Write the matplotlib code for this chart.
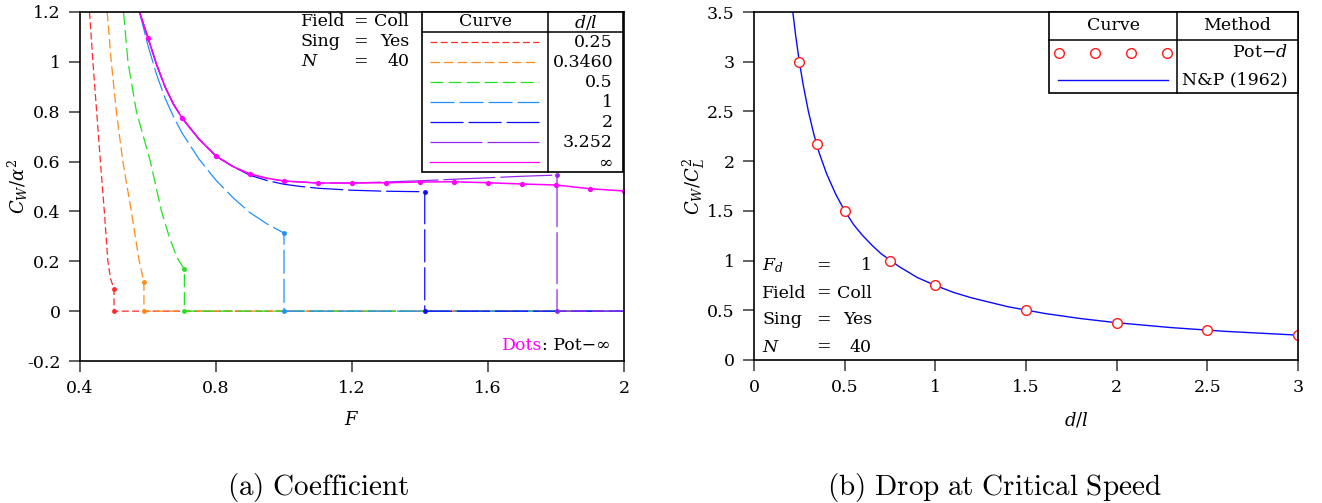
import matplotlib
matplotlib.use("Agg")
import matplotlib.pyplot as plt
from matplotlib.lines import Line2D
from matplotlib.patches import Rectangle

plt.rcParams['font.family'] = 'DejaVu Serif'
plt.rcParams['mathtext.fontset'] = 'dejavuserif'
plt.rcParams['lines.scale_dashes'] = False

W, H = 1322, 503

# ---- (a) C_W/alpha^2 against F, one curve per d/l ----
dl_labels = ['0.25', '0.3460', '0.5', '1', '2', '3.252', r'$\infty$']

F_025 = [0.428, 0.438, 0.449, 0.460, 0.4715, 0.482, 0.490, 0.500]
C_025 = [1.200, 1.000, 0.800, 0.600, 0.400, 0.200, 0.130, 0.088]

F_0346 = [0.480, 0.492, 0.507, 0.526, 0.551, 0.5735, 0.588]
C_0346 = [1.200, 1.000, 0.800, 0.600, 0.400, 0.205, 0.117]

F_05 = [0.528, 0.541, 0.566, 0.607, 0.639, 0.662, 0.685, 0.707]
C_05 = [1.200, 1.000, 0.800, 0.600, 0.404, 0.300, 0.215, 0.168]

F_1 = [0.575, 0.600, 0.625, 0.650, 0.675, 0.700, 0.750, 0.800, 0.850, 0.900, 0.950, 1.000]
C_1 = [1.200, 1.065, 0.950, 0.855, 0.780, 0.715, 0.610, 0.525, 0.455, 0.395, 0.350, 0.313]

F_2 = [0.575, 0.600, 0.625, 0.650, 0.675, 0.700, 0.750, 0.800, 0.850, 0.900,
       0.950, 1.000, 1.050, 1.100, 1.200, 1.300, 1.414]
C_2 = [1.200, 1.096, 0.990, 0.900, 0.830, 0.775, 0.690, 0.622, 0.580, 0.545,
       0.524, 0.509, 0.500, 0.493, 0.485, 0.481, 0.479]

F_3252 = [0.575, 0.600, 0.625, 0.650, 0.675, 0.700, 0.750, 0.800, 0.850, 0.900,
          0.950, 1.000, 1.100, 1.200, 1.300, 1.400, 1.500, 1.600, 1.700, 1.803]
C_3252 = [1.200, 1.096, 0.990, 0.900, 0.830, 0.775, 0.690, 0.622, 0.580, 0.550,
          0.533, 0.522, 0.514, 0.514, 0.518, 0.523, 0.529, 0.535, 0.541, 0.546]

F_inf = [0.575, 0.600, 0.625, 0.650, 0.675, 0.700, 0.750, 0.800, 0.850, 0.900,
         0.950, 1.000, 1.100, 1.200, 1.300, 1.400, 1.500, 1.600, 1.700, 1.800,
         1.900, 2.000]
C_inf = [1.200, 1.096, 0.990, 0.900, 0.830, 0.775, 0.690, 0.622, 0.580, 0.550,
         0.533, 0.522, 0.514, 0.514, 0.515, 0.518, 0.519, 0.515, 0.510, 0.506,
         0.491, 0.482]

# potential-flow results for d/l = infinity
F_pot_inf = [0.6, 0.7, 0.8, 0.9, 1.0, 1.1, 1.2, 1.3, 1.4, 1.5, 1.6, 1.7, 1.8, 1.9, 2.0]
C_pot_inf = [1.096, 0.775, 0.622, 0.550, 0.522, 0.514, 0.514, 0.515, 0.518,
             0.519, 0.515, 0.510, 0.506, 0.491, 0.482]

finite = [(F_025, C_025), (F_0346, C_0346), (F_05, C_05),
          (F_1, C_1), (F_2, C_2), (F_3252, C_3252)]

colors = ['#ff2a2a', '#ff8c1a', '#1ee61e', '#2090ff', '#0a0aff', '#9428f0', '#ff00ff']
dashes = [(5.0, 2.4), (6.8, 3.0), (9.4, 3.6), (17.3, 3.6), (23.8, 3.6), (37.4, 3.6), None]

# ---- (b) C_W/C_L^2 at the critical speed against d/l ----
dl_pot = [0.25, 0.346, 0.5, 0.75, 1.0, 1.5, 2.0, 2.5, 3.0]
cw_pot = [3.00, 2.17, 1.50, 1.00, 0.75, 0.50, 0.375, 0.30, 0.25]

dl_np = [0.214, 0.22, 0.23, 0.24, 0.25, 0.27, 0.30, 0.33, 0.36, 0.40, 0.45, 0.50,
         0.55, 0.60, 0.65, 0.70, 0.80, 0.90, 1.00, 1.10, 1.20, 1.40, 1.60, 1.80,
         2.00, 2.30, 2.60, 3.00]
cw_np = [3.50, 3.41, 3.26, 3.13, 3.00, 2.78, 2.50, 2.27, 2.08, 1.875, 1.67, 1.50,
         1.36, 1.25, 1.155, 1.07, 0.94, 0.83, 0.75, 0.68, 0.625, 0.536, 0.469,
         0.417, 0.375, 0.326, 0.288, 0.25]

# axes boxes in pixels: left, right, top, bottom
box1 = (80, 624, 12, 361)
box2 = (754, 1298, 12, 360)

fig = plt.figure(figsize=(W / 100, H / 100), dpi=100)


def add_axes(box):
    x0, x1, y0, y1 = box
    return fig.add_axes([x0 / W, 1 - y1 / H, (x1 - x0) / W, (y1 - y0) / H])


def frac(box, px, py):
    x0, x1, y0, y1 = box
    return (px - x0) / (x1 - x0), (y1 - py) / (y1 - y0)


def style(ax):
    for s in ax.spines.values():
        s.set_linewidth(1.2)
    ax.tick_params(direction='out', length=8, width=1.3, color='#555555',
                   labelsize=12.5, top=False, right=False, pad=6)


ax1 = add_axes(box1)
ax2 = add_axes(box2)

for (F, C), col, ds in zip(finite, colors, dashes):
    Fc = F[-1]
    ln, = ax1.plot(F + [Fc, 2.0], C + [0.0, 0.0], color=col, lw=0.9)
    ln.set_dashes(ds)
    ax1.plot([Fc, Fc], [C[-1], 0.0], 'o', color=col, ms=3.5, mec='none')

ax1.plot(F_inf, C_inf, color=colors[-1], lw=1.1)
ax1.plot(F_pot_inf, C_pot_inf, 'o', color=colors[-1], ms=3.8, mec='none')

ax1.set_xlim(0.4, 2.0)
ax1.set_ylim(-0.2, 1.2)
ax1.set_xticks([0.4, 0.8, 1.2, 1.6, 2.0])
ax1.set_xticklabels(['0.4', '0.8', '1.2', '1.6', '2'])
ax1.set_yticks([-0.2, 0, 0.2, 0.4, 0.6, 0.8, 1.0, 1.2])
ax1.set_yticklabels(['-0.2', '0', '0.2', '0.4', '0.6', '0.8', '1', '1.2'])
style(ax1)

ax2.plot(dl_np, cw_np, color='#0a0aff', lw=1.0)
ax2.plot(dl_pot, cw_pot, 'o', mfc='white', mec='#ff1a1a', ms=7, mew=1.0)
ax2.set_xlim(0, 3)
ax2.set_ylim(0, 3.5)
ax2.set_xticks([0, 0.5, 1, 1.5, 2, 2.5, 3])
ax2.set_xticklabels(['0', '0.5', '1', '1.5', '2', '2.5', '3'])
ax2.set_yticks([0, 0.5, 1, 1.5, 2, 2.5, 3, 3.5])
ax2.set_yticklabels(['0', '0.5', '1', '1.5', '2', '2.5', '3', '3.5'])
style(ax2)


def put(ax, box, px, py, s, ha='left', color='k', size=12.5):
    x, y = frac(box, px, py)
    ax.text(x, y, s, transform=ax.transAxes, ha=ha, va='center',
            color=color, fontsize=size, zorder=7, clip_on=False)


def hline(ax, box, px0, px1, py, **kw):
    x0, y = frac(box, px0, py)
    x1, _ = frac(box, px1, py)
    ax.add_line(Line2D([x0, x1], [y, y], transform=ax.transAxes, zorder=7,
                       clip_on=False, **kw))


def vline(ax, box, px, py0, py1, **kw):
    x, y0 = frac(box, px, py0)
    _, y1 = frac(box, px, py1)
    ax.add_line(Line2D([x, x], [y0, y1], transform=ax.transAxes, zorder=7,
                       clip_on=False, **kw))


def table_box(ax, box, px0, px1, py0, py1):
    x0, y1 = frac(box, px0, py0)
    x1, y0 = frac(box, px1, py1)
    ax.add_patch(Rectangle((x0, y0), x1 - x0, y1 - y0, transform=ax.transAxes,
                           fc='white', ec='black', lw=1.2, zorder=6, clip_on=False))


# key table, panel (a)
table_box(ax1, box1, 422, 623, 12, 172)
hline(ax1, box1, 422, 623, 32, color='black', lw=1.1)
vline(ax1, box1, 548, 12, 172, color='black', lw=1.1)
put(ax1, box1, 485, 22, 'Curve', ha='center')
put(ax1, box1, 586, 22, r'$d/l$', ha='center')
for i, (lab, col, ds) in enumerate(zip(dl_labels, colors, dashes)):
    py = 42.3 + 20 * i
    ln = Line2D([frac(box1, 430, py)[0], frac(box1, 539, py)[0]],
                [frac(box1, 430, py)[1]] * 2, transform=ax1.transAxes,
                color=col, lw=0.9, zorder=7, clip_on=False)
    if ds is not None:
        ln.set_dashes(ds)
    ax1.add_line(ln)
    put(ax1, box1, 613, py, lab, ha='right')

# run parameters, panel (a)
for py, (k, v) in zip([22, 42, 62], [('Field', 'Coll'), ('Sing', 'Yes'), (r'$N$', '40')]):
    put(ax1, box1, 301, py, k)
    put(ax1, box1, 360, py, '=', ha='center')
    put(ax1, box1, 409, py, v, ha='right')

put(ax1, box1, 502, 346, 'Dots', color='#ff00ff')
put(ax1, box1, 542, 346, ': Pot\u2212\u221e')

# key table, panel (b)
table_box(ax2, box2, 1049, 1298, 12, 93)
hline(ax2, box2, 1049, 1298, 40, color='black', lw=1.1)
vline(ax2, box2, 1177, 12, 93, color='black', lw=1.1)
put(ax2, box2, 1113, 26, 'Curve', ha='center')
put(ax2, box2, 1237, 26, 'Method', ha='center')
mx = [frac(box2, px, 52.7)[0] for px in (1059, 1095, 1131, 1167)]
ax2.add_line(Line2D(mx, [frac(box2, 0, 52.7)[1]] * 4, transform=ax2.transAxes,
                    ls='none', marker='o', mfc='white', mec='#ff1a1a', ms=7,
                    mew=1.0, zorder=7, clip_on=False))
hline(ax2, box2, 1058, 1168, 80, color='#0a0aff', lw=1.0)
put(ax2, box2, 1288, 52.7, r'Pot$-d$', ha='right')
put(ax2, box2, 1288, 80, 'N&P (1962)', ha='right')

# run parameters, panel (b)
for py, (k, v) in zip([266, 293, 320, 347],
                      [(r'$F_d$', '1'), ('Field', 'Coll'), ('Sing', 'Yes'), (r'$N$', '40')]):
    put(ax2, box2, 762, py, k)
    put(ax2, box2, 823, py, '=', ha='center')
    put(ax2, box2, 872, py, v, ha='right')

# axis titles
fig.text(18 / W, 1 - 186 / H, r'$C_W/\alpha^2$', rotation=90, ha='center', va='center', fontsize=13)
fig.text(352 / W, 1 - 420 / H, r'$F$', ha='center', va='center', fontsize=13)
fig.text(694 / W, 1 - 186 / H, r'$C_W/C_L^2$', rotation=90, ha='center', va='center', fontsize=13)
fig.text(1076 / W, 1 - 420 / H, r'$d/l$', ha='center', va='center', fontsize=13)

# sub-captions
fig.text(318 / W, 1 - 487 / H, r'$\mathrm{(a)\ Coefficient}$', ha='center', va='center',
         fontsize=21, math_fontfamily='cm')
fig.text(994 / W, 1 - 487 / H, r'$\mathrm{(b)\ Drop\ at\ Critical\ Speed}$', ha='center',
         va='center', fontsize=21, math_fontfamily='cm')

fig.savefig('out.png', dpi=100)
